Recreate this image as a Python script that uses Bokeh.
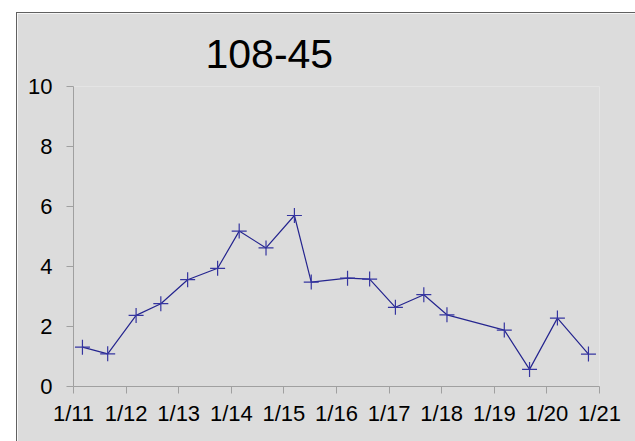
from bokeh.plotting import figure
from bokeh.models import Range1d, FixedTicker, Title, GlobalInlineStyleSheet
from bokeh.embed import file_html
from bokeh.resources import INLINE

# ---- data ----
tick_labels = ["1/11", "1/12", "1/13", "1/14", "1/15", "1/16", "1/17", "1/18", "1/19", "1/20", "1/21"]
# position in days after 1/11
x_days = [0.17, 0.65, 1.19, 1.66, 2.17, 2.74, 3.15, 3.66, 4.20, 4.52,
          5.21, 5.63, 6.12, 6.66, 7.10, 8.19, 8.67, 9.20, 9.79]
values = [1.31, 1.09, 2.37, 2.76, 3.56, 3.94, 5.18, 4.62, 5.70, 3.48,
          3.61, 3.58, 2.64, 3.06, 2.39, 1.88, 0.57, 2.28, 1.08]
y_ticks = [0, 2, 4, 6, 8, 10]

FONT = "Liberation Sans"
PANEL = "#dcdcdc"

page_css = GlobalInlineStyleSheet(
    css="html,body{overflow:hidden;} body{margin:0 !important; padding:12px 0 0 16px !important;}")

p = figure(width=619, height=429, output_backend="svg", toolbar_location=None,
           x_range=Range1d(0, 10), y_range=Range1d(0, 10),
           background_fill_color=PANEL, border_fill_color=PANEL,
           min_border_left=56, min_border_right=37, min_border_top=73, min_border_bottom=56,
           styles={"border-left": "1px solid #606060", "border-top": "1px solid #606060"},
           stylesheets=[page_css])
p.outline_line_color = None
p.grid.grid_line_color = None
p.title = Title(text="108-45", align="left", offset=132, text_font=FONT,
                text_font_size="41px", text_font_style="normal", text_color="black", standoff=37)

p.xaxis.ticker = FixedTicker(ticks=list(range(len(tick_labels))))
p.xaxis.major_label_overrides = {i: t for i, t in enumerate(tick_labels)}
p.yaxis.ticker = FixedTicker(ticks=y_ticks)
for ax in (p.xaxis, p.yaxis):
    ax.axis_line_color = "#a0a0a0"
    ax.major_tick_line_color = "#a0a0a0"
    ax.major_tick_out = 7
    ax.major_tick_in = 0
    ax.minor_tick_line_color = None
    ax.major_label_text_font = FONT
    ax.major_label_text_font_size = "22px"
    ax.major_label_text_color = "black"
p.xaxis.major_label_standoff = 7
p.yaxis.major_label_standoff = 14

p.line(x_days, values, line_color="#25258f", line_width=1.2)
p.scatter(x_days, values, marker="cross", size=15, line_color="#3535a0", line_width=1.2)

open("out.html", "w").write(file_html(p, INLINE))
